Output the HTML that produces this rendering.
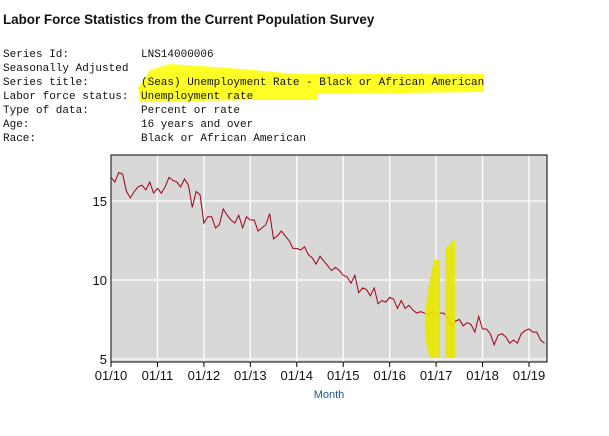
<!DOCTYPE html>
<html><head><meta charset="utf-8"><style>
body{margin:0;width:609px;height:436px;background:#fff;overflow:hidden;position:relative;font-family:"Liberation Sans",sans-serif}
#title{position:absolute;left:3px;top:12px;font-weight:bold;font-size:13.4px;color:#111}
.row{position:absolute;left:3px;font-family:"Liberation Mono",monospace;font-size:11px;line-height:14px;white-space:pre;color:#111}
.lbl{display:inline-block;width:138px}
</style></head><body>
<svg width="609" height="436" style="position:absolute;left:0;top:0">
<polygon fill="#ffff00" opacity="0.85" points="138,88 150,70 170,64 230,68 298,74 484,74 484,92 318,94 318,100 250,100 140,102"/>
</svg>
<div id="title">Labor Force Statistics from the Current Population Survey</div>
<div class="row" style="top:48px"><span class="lbl">Series Id:</span>LNS14000006</div>
<div class="row" style="top:62px">Seasonally Adjusted</div>
<div class="row" style="top:76px"><span class="lbl">Series title:</span>(Seas) Unemployment Rate - Black or African American</div>
<div class="row" style="top:90px"><span class="lbl">Labor force status:</span>Unemployment rate</div>
<div class="row" style="top:104px"><span class="lbl">Type of data:</span>Percent or rate</div>
<div class="row" style="top:118px"><span class="lbl">Age:</span>16 years and over</div>
<div class="row" style="top:132px"><span class="lbl">Race:</span>Black or African American</div>
<svg id="chart" width="609" height="436" style="position:absolute;left:0;top:0"></svg>
<script>
const yTicks=[5,10,15];
const xTickLabels=["01/10","01/11","01/12","01/13","01/14","01/15","01/16","01/17","01/18","01/19"];
const rates=[
16.5,16.2,16.8,16.7,15.6,15.2,15.6,15.9,16.0,15.7,16.2,15.5,
15.8,15.5,15.9,16.5,16.3,16.2,15.9,16.4,16.0,14.6,15.6,15.4,
13.6,14.0,14.0,13.3,13.5,14.5,14.1,13.8,13.6,14.1,13.3,14.0,
13.8,13.8,13.1,13.3,13.5,14.2,12.6,12.8,13.1,12.8,12.5,12.0,
12.0,11.9,12.1,11.6,11.4,11.0,11.5,11.2,10.9,10.6,10.8,10.6,
10.3,10.2,9.8,10.3,9.2,9.5,9.4,9.0,9.5,8.5,8.7,8.6,
8.9,8.8,8.2,8.7,8.2,8.4,8.1,7.9,8.0,7.9,7.8,8.0,
7.8,7.9,7.9,7.6,7.1,7.4,7.5,7.1,7.3,7.2,6.7,7.7,
6.9,6.9,6.6,5.9,6.5,6.6,6.4,6.0,6.2,6.0,6.6,6.8,
6.9,6.7,6.7,6.2,6.0];
const NS="http://www.w3.org/2000/svg";
const svg=document.getElementById('chart');
const L=111,R=547,T=155,B=362;
const x=i=>L+i*(529-111)/108;
const y=v=>359-(v-5)*15.8;
function mk(t,a,p){const e=document.createElementNS(NS,t);for(const k in a)e.setAttribute(k,a[k]);(p||svg).appendChild(e);return e;}
let e=mk('rect',{x:L,y:T,width:R-L,height:B-T,fill:'#d8d8d8'});


yTicks.forEach(v=>{
 let g=mk('line',{x1:L,x2:R,y1:y(v),y2:y(v),stroke:'#fff','stroke-width':1.3});
 
 
 let t=mk('text',{x:L-4,y:y(v)+5,'text-anchor':'end','font-size':13,fill:'#111','font-family':'Liberation Sans, sans-serif'});
 t.textContent=v;
 
 
});
xTickLabels.forEach((s,k)=>{
 const xx=x(k*12);
 let g=mk('line',{x1:xx,x2:xx,y1:T,y2:B,stroke:'#fff','stroke-width':1.3});
 
 
 let tk=mk('line',{x1:xx,x2:xx,y1:B,y2:B+5,stroke:'#000'});
 
 
 let t=mk('text',{x:xx,y:B+18,'text-anchor':'middle','font-size':13,fill:'#111','font-family':'Liberation Sans, sans-serif'});
 t.textContent=s;
 
 
});
e=mk('rect',{x:L,y:T,width:R-L,height:B-T,fill:'none',stroke:'#000','stroke-width':1});


e=mk('polyline',{points:rates.map((v,i)=>x(i)+','+y(v)).join(' '),fill:'none',stroke:'#a00010','stroke-width':1});


e=mk('path',{d:'M432,355 C424,330 428,300 437,260 L437,355 Z M448,355 L448,250 L452,246 L452,355 Z',fill:'#e8e800',stroke:'#e8e800','stroke-width':6,opacity:0.9});


e=mk('text',{x:329,y:398,'text-anchor':'middle','font-size':11,fill:'#1a5a9a','font-family':'Liberation Sans, sans-serif'});
e.textContent='Month';


</script>
</body></html>
